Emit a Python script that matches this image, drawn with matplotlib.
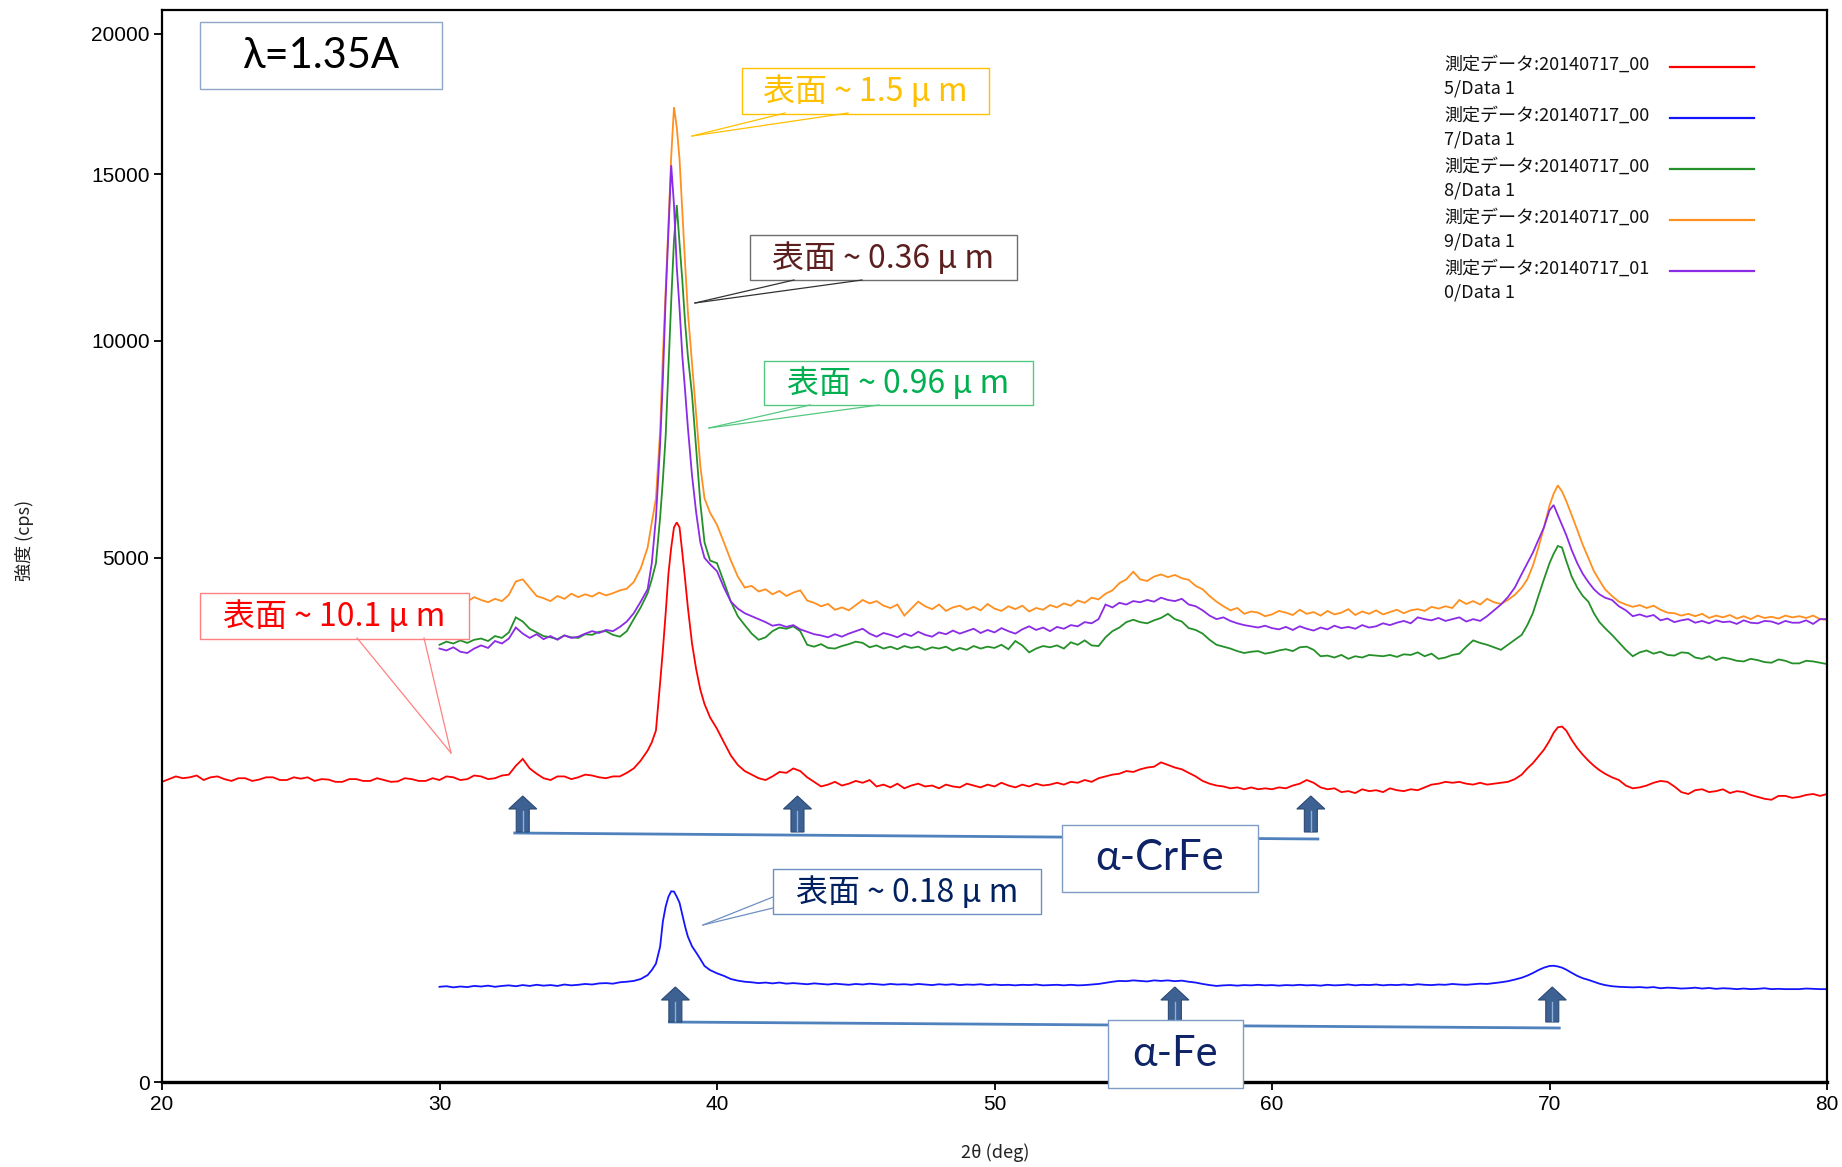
import numpy as np
import matplotlib
matplotlib.use("Agg")
import matplotlib.pyplot as plt
from matplotlib import font_manager
from matplotlib.transforms import Affine2D
from matplotlib.patches import Rectangle, Polygon
from matplotlib.lines import Line2D

# ---------------- data ----------------
# 2-theta grid of the red (10.1 um) scan before 30 deg
tt_pre = [20.0, 20.25, 20.5, 20.75, 21.0, 21.25, 21.5, 21.75, 22.0, 22.25,
          22.5, 22.75, 23.0, 23.25, 23.5, 23.75, 24.0, 24.25, 24.5, 24.75,
          25.0, 25.25, 25.5, 25.75, 26.0, 26.25, 26.5, 26.75, 27.0, 27.25,
          27.5, 27.75, 28.0, 28.25, 28.5, 28.75, 29.0, 29.25, 29.5, 29.75]
red_pre = [1640, 1670, 1700, 1680, 1690, 1710, 1660, 1690, 1700, 1670,
           1650, 1680, 1680, 1650, 1665, 1690, 1690, 1660, 1660, 1690,
           1675, 1690, 1650, 1670, 1665, 1640, 1640, 1670, 1670, 1650,
           1650, 1680, 1660, 1640, 1645, 1680, 1670, 1650, 1650, 1680]

# common 2-theta grid, 30..80 deg
tt = [30.0, 30.25, 30.5, 30.75, 31.0, 31.25, 31.5, 31.75, 32.0, 32.25,
      32.5, 32.75, 33.0, 33.25, 33.5, 33.75, 34.0, 34.25, 34.5, 34.75,
      35.0, 35.25, 35.5, 35.75, 36.0, 36.25, 36.5, 36.75, 37.0, 37.25, 37.5,
      37.65, 37.8, 37.95, 38.05, 38.15, 38.25, 38.35, 38.45, 38.55, 38.65,
      38.75, 38.85, 38.95, 39.1, 39.25, 39.4, 39.55, 39.75,
      40.0, 40.25, 40.5, 40.75, 41.0, 41.25, 41.5, 41.75, 42.0, 42.25, 42.5, 42.75,
      43.0, 43.25, 43.5, 43.75, 44.0, 44.25, 44.5, 44.75, 45.0, 45.25, 45.5, 45.75,
      46.0, 46.25, 46.5, 46.75, 47.0, 47.25, 47.5, 47.75, 48.0, 48.25, 48.5, 48.75,
      49.0, 49.25, 49.5, 49.75, 50.0, 50.25, 50.5, 50.75, 51.0, 51.25, 51.5, 51.75,
      52.0, 52.25, 52.5, 52.75, 53.0, 53.25, 53.5, 53.75, 54.0, 54.25, 54.5, 54.75,
      55.0, 55.25, 55.5, 55.75, 56.0, 56.25, 56.5, 56.75, 57.0, 57.25, 57.5, 57.75,
      58.0, 58.25, 58.5, 58.75, 59.0, 59.25, 59.5, 59.75, 60.0, 60.25, 60.5, 60.75,
      61.0, 61.25, 61.5, 61.75, 62.0, 62.25, 62.5, 62.75, 63.0, 63.25, 63.5, 63.75,
      64.0, 64.25, 64.5, 64.75, 65.0, 65.25, 65.5, 65.75, 66.0, 66.25, 66.5, 66.75,
      67.0, 67.25, 67.5, 67.75, 68.0, 68.25, 68.5, 68.75, 69.0,
      69.2, 69.4, 69.6, 69.8, 70.0, 70.15, 70.3, 70.45, 70.6, 70.8,
      71.0, 71.2, 71.4, 71.6, 71.8,
      72.0, 72.25, 72.5, 72.75, 73.0, 73.25, 73.5, 73.75, 74.0, 74.25, 74.5, 74.75,
      75.0, 75.25, 75.5, 75.75, 76.0, 76.25, 76.5, 76.75, 77.0, 77.25, 77.5, 77.75,
      78.0, 78.25, 78.5, 78.75, 79.0, 79.25, 79.5, 79.75, 80.0]

red = [1660, 1700, 1690, 1660, 1670, 1710, 1700, 1670, 1680, 1710,
       1720, 1820, 1900, 1790, 1730, 1680, 1660, 1700, 1700, 1670,
       1690, 1720, 1710, 1690, 1680, 1700, 1700, 1740, 1790, 1880, 2000,
       2100, 2250, 2900, 3400, 4000, 4700, 5200, 5600, 5700, 5600,
       5100, 4600, 4100, 3500, 3100, 2800, 2600, 2420,
       2270, 2100, 1940, 1830, 1760, 1720, 1680, 1660, 1700, 1750, 1740, 1790,
       1760, 1690, 1640, 1590, 1610, 1640, 1600, 1620, 1650, 1630, 1660, 1590,
       1610, 1580, 1620, 1570, 1600, 1620, 1590, 1600, 1570, 1610, 1590, 1580,
       1620, 1600, 1580, 1610, 1590, 1630, 1600, 1580, 1610, 1590, 1620, 1600,
       1610, 1630, 1610, 1640, 1630, 1660, 1640, 1680, 1700, 1720, 1730, 1760,
       1750, 1780, 1800, 1810, 1860, 1830, 1800, 1780, 1740, 1700, 1650, 1620,
       1600, 1590, 1570, 1580, 1560, 1580, 1560, 1570, 1560, 1580, 1570, 1600,
       1620, 1660, 1630, 1580, 1560, 1570, 1530, 1540, 1520, 1560, 1540, 1550,
       1530, 1570, 1550, 1540, 1560, 1550, 1580, 1610, 1620, 1640, 1630, 1640,
       1620, 1610, 1630, 1610, 1620, 1630, 1640, 1670, 1720,
       1790, 1850, 1930, 2010, 2120, 2220, 2290, 2300, 2250, 2130,
       2030, 1950, 1880, 1820, 1770,
       1730, 1690, 1660, 1600, 1570, 1580, 1600, 1630, 1650, 1640, 1590, 1530,
       1510, 1550, 1560, 1530, 1540, 1560, 1520, 1540, 1530, 1500, 1480, 1460,
       1450, 1490, 1490, 1470, 1480, 1500, 1510, 1490, 1510]

blue = [165, 167, 163, 166, 164, 168, 166, 169, 165, 168,
        170, 167, 171, 168, 172, 169, 171, 168, 173, 170,
        172, 175, 173, 177, 178, 176, 181, 183, 186, 193, 208,
        228, 255, 333, 470, 560, 625, 662, 660, 625, 585,
        510, 440, 385, 335, 305, 275, 245, 228,
        215, 205, 193, 187, 183, 181, 178, 180, 177, 180, 176, 178,
        176, 174, 177, 175, 173, 176, 174, 172, 175, 173, 176, 174,
        172, 175, 173, 174, 172, 175, 173, 171, 174, 172, 174, 171,
        173, 172, 174, 171, 173, 171, 172, 170, 172, 171, 173, 170,
        171, 172, 170, 172, 170, 171, 173, 175, 179, 183, 186, 185,
        188, 186, 184, 188, 186, 188, 185, 187, 183, 180, 175, 171,
        168, 170, 171, 169, 171, 170, 172, 170, 171, 169, 171, 170,
        172, 170, 171, 169, 172, 170, 171, 173, 170, 172, 171, 173,
        170, 172, 171, 173, 171, 174, 172, 171, 173, 172, 175, 173,
        172, 174, 176, 175, 178, 181, 185, 191, 198,
        206, 216, 228, 238, 245, 246, 243, 238, 230, 217,
        205, 196, 190, 183, 176,
        171, 167, 165, 164, 163, 164, 162, 164, 160, 162, 161, 159,
        160, 162, 159, 161, 158, 160, 159, 157, 159, 157, 158, 160,
        157, 158, 157, 157, 157, 159, 158, 157, 157]

green = [3480, 3530, 3500, 3550, 3510, 3560, 3580, 3540, 3620, 3590,
         3680, 3930, 3860, 3740, 3680, 3620, 3600, 3570, 3630, 3600,
         3590, 3650, 3640, 3690, 3700, 3640, 3610, 3700, 3900, 4100, 4350,
         4600, 4900, 5800, 6600, 7600, 9300, 11100, 12900, 14000, 12800,
         11700, 10500, 9600, 8600, 7300, 6100, 5300, 4950,
         4900, 4550, 4200, 3950, 3800, 3660, 3560, 3600, 3700, 3760, 3740, 3780,
         3700, 3480, 3450, 3490, 3430, 3420, 3460, 3490, 3530, 3510, 3440, 3470,
         3420, 3450, 3410, 3460, 3430, 3450, 3400, 3440, 3420, 3450, 3390, 3430,
         3400, 3460, 3420, 3450, 3430, 3480, 3410, 3540, 3470, 3360, 3420, 3460,
         3440, 3470, 3420, 3520, 3480, 3550, 3470, 3460, 3600, 3700, 3760, 3850,
         3890, 3850, 3830, 3880, 3920, 3990, 3900, 3860, 3750, 3720, 3660, 3560,
         3480, 3450, 3420, 3380, 3350, 3370, 3380, 3340, 3360, 3390, 3410, 3380,
         3440, 3450, 3400, 3300, 3310, 3280, 3320, 3260, 3300, 3280, 3320, 3310,
         3300, 3320, 3290, 3330, 3320, 3360, 3300, 3340, 3260, 3280, 3320, 3340,
         3450, 3550, 3510, 3480, 3440, 3400, 3480, 3560, 3640,
         3800, 4000, 4300, 4600, 4900, 5080, 5230, 5200, 4950, 4650,
         4450, 4300, 4200, 4000, 3850,
         3750, 3640, 3520, 3400, 3300, 3360, 3390, 3340, 3370, 3320, 3310, 3360,
         3350, 3280, 3260, 3300, 3240, 3280, 3260, 3230, 3220, 3260, 3240, 3210,
         3200, 3250, 3230, 3190, 3190, 3230, 3220, 3200, 3180]

orange = [4150, 4210, 4180, 4260, 4200, 4280, 4230, 4190, 4250, 4210,
          4320, 4560, 4600, 4450, 4300, 4260, 4210, 4300, 4250, 4340,
          4280, 4330, 4290, 4360, 4310, 4350, 4400, 4430, 4550, 4800, 5200,
          5700, 6200, 7700, 9600, 11400, 13400, 15600, 17300, 16600, 15500,
          13800, 12200, 10800, 9400, 8100, 6900, 6200, 5900,
          5650, 5300, 4950, 4650, 4450, 4480, 4380, 4420, 4330, 4390, 4300, 4360,
          4400, 4220, 4180, 4120, 4160, 4060, 4100, 4050, 4140, 4230, 4170, 4210,
          4130, 4090, 4150, 3960, 4080, 4200, 4120, 4070, 4150, 4040, 4100, 4130,
          4060, 4110, 4050, 4160, 4080, 4040, 4120, 4070, 4130, 4030, 4090, 4060,
          4140, 4100, 4170, 4130, 4220, 4180, 4270, 4240, 4340, 4400, 4530, 4600,
          4740, 4600, 4570, 4650, 4690, 4640, 4680, 4620, 4590, 4480, 4420, 4300,
          4200, 4120, 4050, 4090, 3990, 4030, 4010, 3950, 3980, 4040, 4010, 3970,
          4060, 3990, 4020, 3960, 4040, 3980, 4010, 4070, 3970, 4030, 3990, 4050,
          3980, 4020, 4060, 4000, 4050, 4070, 4040, 4110, 4080, 4120, 4090, 4230,
          4160, 4210, 4150, 4250, 4190, 4160, 4230, 4320, 4450,
          4600, 4850, 5200, 5600, 6050, 6300, 6480, 6350, 6150, 5850,
          5550, 5250, 5000, 4750, 4580,
          4420, 4300, 4200, 4150, 4110, 4140, 4090, 4130, 4060, 4010, 4000, 3960,
          3990, 3950, 3990, 3920, 3960, 3930, 3970, 3910, 3950, 3900, 3960, 3920,
          3940, 3910, 3960, 3930, 3950, 3920, 3960, 3900, 3890]

purple = [3420, 3390, 3440, 3370, 3350, 3420, 3470, 3430, 3540, 3500,
          3580, 3760, 3660, 3590, 3650, 3570, 3620, 3560, 3630, 3590,
          3610, 3660, 3700, 3670, 3720, 3700, 3770, 3860, 4000, 4200, 4420,
          4900, 5800, 7400, 9000, 11200, 13200, 15300, 14000, 12100, 10900,
          9600, 8700, 7800, 6700, 5900, 5300, 5000, 4880,
          4750, 4450, 4200, 4080, 4000, 3950, 3900, 3850, 3790, 3810, 3770, 3800,
          3730, 3690, 3650, 3630, 3600, 3650, 3610, 3660, 3700, 3740, 3660, 3610,
          3670, 3640, 3600, 3660, 3620, 3690, 3640, 3610, 3680, 3650, 3710, 3660,
          3700, 3740, 3670, 3720, 3680, 3750, 3700, 3660, 3730, 3780, 3720, 3760,
          3700, 3770, 3740, 3800, 3780, 3850, 3830, 3900, 4150, 4100, 4180, 4150,
          4210, 4190, 4230, 4200, 4270, 4230, 4210, 4250, 4150, 4120, 4050, 3960,
          3900, 3930, 3870, 3830, 3800, 3780, 3760, 3790, 3750, 3730, 3770, 3720,
          3780, 3740, 3710, 3760, 3730, 3790, 3750, 3770, 3740, 3800, 3760, 3780,
          3830, 3800, 3840, 3870, 3830, 3930, 3900, 3880, 3920, 3870, 3900, 3930,
          3860, 3900, 3870, 3950, 4050, 4150, 4280, 4450, 4700,
          4900, 5100, 5350, 5600, 5950, 6060, 5850, 5650, 5450, 5150,
          4900, 4700, 4550, 4420, 4330,
          4270, 4230, 4120, 4050, 3950, 3980, 3940, 3970, 3880, 3910, 3850, 3880,
          3900, 3840, 3870, 3830, 3880, 3850, 3860, 3820, 3880, 3840, 3830, 3870,
          3860, 3820, 3870, 3840, 3840, 3880, 3820, 3900, 3900]

legend_line1 = ["測定データ:20140717_00", "測定データ:20140717_00", "測定データ:20140717_00",
                "測定データ:20140717_00", "測定データ:20140717_01"]
legend_line2 = ["5/Data 1", "7/Data 1", "8/Data 1", "9/Data 1", "0/Data 1"]
colors = ["#FF0000", "#1414FF", "#25902A", "#FF8F1F", "#8B2BE6"]

x_ticks = [20, 30, 40, 50, 60, 70, 80]
y_ticks = [0, 5000, 10000, 15000, 20000]

thick_labels = ["表面 ~ 10.1 μ m", "表面 ~ 1.5 μ m", "表面 ~ 0.36 μ m",
                "表面 ~ 0.96 μ m", "表面 ~ 0.18 μ m"]
crfe_peaks = [33.0, 42.9, 61.4]
fe_peaks = [38.5, 56.5, 70.1]

# ---------------- fonts ----------------
names = {f.name for f in font_manager.fontManager.ttflist}
CJK = "Noto Sans CJK JP"
NARROW = "Liberation Sans Narrow" if "Liberation Sans Narrow" in names else "Liberation Sans"
LATIN = [f for f in ["Lato", "Noto Sans", "DejaVu Sans"] if f in names] or ["DejaVu Sans"]
plt.rcParams["font.family"] = [CJK, "DejaVu Sans"]

# ---------------- figure ----------------
W, H = 1842, 1167
L, R, T, B = 162, 1827, 10, 1082
fig = plt.figure(figsize=(W / 100, H / 100), dpi=100)
ax = fig.add_axes([L / W, 1 - B / H, (R - L) / W, (B - T) / H])
px = Affine2D().scale(1 / W, -1 / H).translate(0, 1) + fig.transFigure

ax.set_yscale("function", functions=(lambda v: np.sqrt(np.clip(v, 0, None)),
                                       lambda v: np.square(v)))

series = [(tt_pre + tt, red_pre + red), (tt, blue), (tt, green), (tt, orange), (tt, purple)]
for (xs, ys), c in zip(series, colors):
    n = min(len(xs), len(ys))
    ax.plot(xs[:n], ys[:n], color=c, lw=1.3, solid_joinstyle="miter")

ax.set_xlim(20, 80)
ax.set_ylim(0, 20920)
ax.set_xticks(x_ticks)
ax.set_yticks(y_ticks)
ax.set_xticklabels([str(v) for v in x_ticks], family=NARROW, fontsize=15)
ax.set_yticklabels([str(v) for v in y_ticks], family=NARROW, fontsize=15)
ax.tick_params(axis="both", direction="out", length=6, width=1.3, color="black", pad=3)
for side, sp in ax.spines.items():
    sp.set_linewidth(1.6 if side != "bottom" else 2.4)
    sp.set_color("black")

fig.text(995, 1153, "2θ (deg)", transform=px, ha="center", va="center", fontsize=13,
         family=[CJK, "DejaVu Sans"], color="#222222")
fig.text(24, 540, "強度 (cps)", transform=px, ha="center", va="center", fontsize=13,
         rotation=90, family=[CJK, "DejaVu Sans"], color="#222222")

# legend (text left, line sample right)
for i, (l1, l2, c) in enumerate(zip(legend_line1, legend_line2, colors)):
    y0 = 65 + i * 51
    fig.text(1444, y0, l1, transform=px, ha="left", va="center", fontsize=13,
             family=[CJK, "DejaVu Sans"], color="#111111")
    fig.text(1444, y0 + 23.5, l2, transform=px, ha="left", va="center", fontsize=13,
             family=[CJK, "DejaVu Sans"], color="#111111")
    fig.add_artist(Line2D([1670, 1754], [y0 + 2, y0 + 2], transform=px, color=c, lw=1.6))

# ---------------- annotations ----------------
def box(x0, y0, x1, y1, ec, lw=1.0, z=11):
    fig.add_artist(Rectangle((x0, y0), x1 - x0, y1 - y0, transform=px, fc="white",
                             ec=ec, lw=lw, zorder=z))

def wedge(p1, p2, tip, color):
    for p in (p1, p2):
        fig.add_artist(Line2D([p[0], tip[0]], [p[1], tip[1]], transform=px,
                              color=color, lw=0.9, zorder=11.5))

# lambda box
box(200, 22, 442, 89, "#8EA6C8", 1.0)
fig.text(321, 56, "λ=1.35A", transform=px, ha="center", va="center", fontsize=30,
         family=LATIN, color="black", zorder=12)

# thickness labels
specs = [
    # (label idx, box, text colour, edge colour, wedge p1, p2, tip)
    (0, (200, 593, 469, 639), "#FF0000", "#FF8080", (357, 638), (424, 638), (451, 753)),
    (1, (742, 68, 989, 114), "#FFC000", "#FFC000", (785, 113), (848, 113), (692, 136)),
    (2, (750, 235, 1017, 280), "#5C1F1F", "#6E6E6E", (794, 280), (862, 280), (695, 303)),
    (3, (764, 361, 1033, 405), "#00B050", "#55C880", (810, 405), (879, 405), (709, 428)),
    (4, (773, 869, 1041, 914), "#002060", "#6F8FC0", (773, 897), (773, 908), (703, 925)),
]
for idx, (x0, y0, x1, y1), tc, ec, p1, p2, tip in specs:
    wedge(p1, p2, tip, ec if idx != 2 else "#333333")
    box(x0, y0, x1, y1, ec, 1.0)
    fig.text((x0 + x1) / 2, (y0 + y1) / 2 + 1, thick_labels[idx], transform=px,
             ha="center", va="center", fontsize=23, family=[CJK, "DejaVu Sans"],
             color=tc, zorder=12)

def xpix(v):
    return ax.transData.transform((v, 1000))[0]

def up_arrow(cx, ytop, ybot):
    hw, sw, hh = 14, 6.5, 13
    verts = [(cx, ytop), (cx + hw, ytop + hh), (cx + sw, ytop + hh), (cx + sw, ybot),
             (cx - sw, ybot), (cx - sw, ytop + hh), (cx - hw, ytop + hh)]
    fig.add_artist(Polygon(verts, closed=True, transform=px, fc="#3C6192",
                           ec="#2C4A74", lw=0.8, zorder=10))
    fig.add_artist(Line2D([cx, cx], [ytop + hh + 2, ybot - 1], transform=px,
                          color="#8DB0DE", lw=1.0, zorder=10.5))

# alpha-CrFe group
cx = [xpix(v) for v in crfe_peaks]
fig.add_artist(Line2D([cx[0] - 8, cx[-1] + 7], [833, 839], transform=px,
                      color="#4F81BD", lw=2.0, zorder=9))
for c in cx:
    up_arrow(c, 796, 832)
box(1062, 825, 1258, 892, "#7F9CC6", 1.0)
fig.text(1160, 858, "α-CrFe", transform=px, ha="center", va="center", fontsize=30,
         family=LATIN, color="#0F2466", zorder=12)

# alpha-Fe group
fx = [xpix(v) for v in fe_peaks]
fig.add_artist(Line2D([fx[0] - 6, fx[-1] + 7], [1022, 1028], transform=px,
                      color="#4F81BD", lw=2.0, zorder=9))
for c in fx:
    up_arrow(c, 987, 1022)
box(1108, 1020, 1243, 1088, "#7F9CC6", 1.0)
fig.text(1175, 1054, "α-Fe", transform=px, ha="center", va="center", fontsize=30,
         family=LATIN, color="#0F2466", zorder=12)

fig.savefig("out.png", dpi=100, facecolor="white")
